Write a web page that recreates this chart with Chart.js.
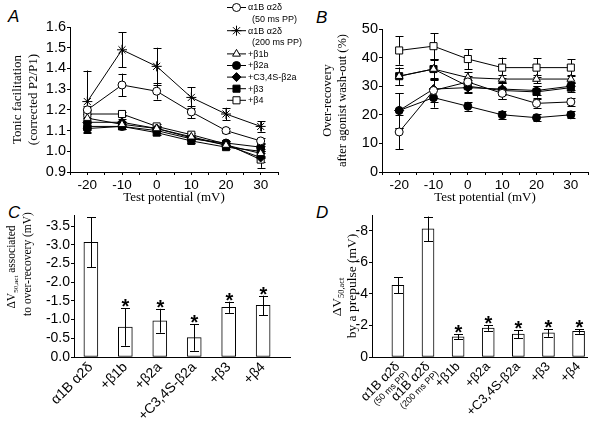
<!DOCTYPE html>
<html>
<head>
<meta charset="utf-8">
<script src="https://cdn.jsdelivr.net/npm/chart.js@4.4.1/dist/chart.umd.min.js"></script>
<style>
  body { margin: 0; width: 595px; height: 429px; background: #fff; position: relative; overflow: hidden; }
  canvas { position: absolute; }
  .panel { position: absolute; font: italic 17px "Liberation Sans", Arial, sans-serif; color: #000; }
</style>
</head>
<body>
<div class="panel" style="left:8px;top:7px">A</div>
<div class="panel" style="left:316px;top:8px">B</div>
<div class="panel" style="left:8px;top:203px">C</div>
<div class="panel" style="left:316px;top:203px">D</div>
<canvas id="chartA" width="330" height="205" style="left:0;top:0"></canvas>
<canvas id="chartB" width="300" height="205" style="left:295px;top:0"></canvas>
<canvas id="chartC" width="300" height="229" style="left:0;top:200px"></canvas>
<canvas id="chartD" width="300" height="229" style="left:295px;top:200px"></canvas>
<script>
// ---- data ----
const potentials = [-20, -10, 0, 10, 20, 30];

// A: tonic facilitation (corrected P2/P1)
const tonic50 = [1.20, 1.32, 1.29, 1.19, 1.10, 1.05];
const tonic50Err = [0.02, 0.055, 0.04, 0.03, 0.012, 0.015];
const tonic200 = [1.24, 1.49, 1.41, 1.26, 1.18, 1.12];
const tonic200Err = [0.15, 0.085, 0.09, 0.05, 0.03, 0.025];
const tonicB1b = [1.16, 1.13, 1.11, 1.07, 1.03, 0.99];
const tonicB1bErr = [0.02, 0.01, 0.01, 0.01, 0.01, 0.02];
const tonicB2a = [1.11, 1.12, 1.10, 1.06, 1.04, 1.02];
const tonicB2aErr = [0.015, 0.01, 0.01, 0.01, 0.01, 0.02];
const tonicC34 = [1.14, 1.14, 1.11, 1.065, 1.03, 0.97];
const tonicC34Err = [0.02, 0.015, 0.01, 0.01, 0.01, 0.02];
const tonicB3 = [1.12, 1.12, 1.09, 1.05, 1.02, 1.00];
const tonicB3Err = [0.015, 0.01, 0.01, 0.01, 0.01, 0.025];
const tonicB4 = [1.18, 1.18, 1.12, 1.08, 1.035, 0.96];
const tonicB4Err = [0.02, 0.01, 0.01, 0.01, 0.015, 0.04];

// B: over-recovery after agonist wash-out (%)
const over50 = [14, 28.5, 31.5, 27.5, 24, 24.5];
const over50Err = [6, 4, 2, 2, 1.5, 1.5];
const overB1b = [33.5, 36, 33, 32.5, 32.5, 32.5];
const overB1bErr = [3, 3, 2, 1.5, 1.5, 1.5];
const overB2a = [21.5, 26, 23, 20, 19, 20];
const overB2aErr = [6, 3.5, 1.5, 1.5, 1.2, 1.2];
const overC34 = [21.5, 29, 29.5, 29, 28.5, 30];
const overC34Err = [6, 3, 2, 2, 1.5, 1.5];
const overB3 = [33.5, 36, 30, 28.5, 28, 29.5];
const overB3Err = [3, 3.5, 2, 3, 2, 1.5];
const overB4 = [42.5, 44, 39.5, 36.5, 36.5, 36.5];
const overB4Err = [5, 4.5, 3.5, 3.5, 3.2, 3];

// legend
const legendNames = [['α1B α2δ', '(50 ms PP)'], ['α1B α2δ', '(200 ms PP)'], ['+β1b'], ['+β2a'], ['+C3,4S-β2a'], ['+β3'], ['+β4']];

// C: ΔV50,act associated to over-recovery (mV)
const groupsC = ['α1B α2δ', '+β1b', '+β2a', '+C3,4S-β2a', '+β3', '+β4'];
const shiftC = [-3.07, -0.80, -0.97, -0.52, -1.33, -1.38];
const shiftCErr = [0.67, 0.50, 0.32, 0.35, 0.15, 0.26];
const starC = [false, true, true, true, true, true];

// D: ΔV50,act by a prepulse (mV)
const groupsD = ['α1B α2δ', 'α1B α2δ', '+β1b', '+β2a', '+C3,4S-β2a', '+β3', '+β4'];
const notesD = ['(50 ms PP)', '(200 ms PP)', '', '', '', '', ''];
const shiftD = [-4.55, -8.12, -1.28, -1.83, -1.45, -1.53, -1.62];
const shiftDErr = [0.52, 0.78, 0.17, 0.17, 0.25, 0.25, 0.15];
const starD = [false, false, true, true, true, true, true];

// ---- styles ----
const SANS = '"Liberation Sans", Arial, sans-serif';
const SERIF = '"Liberation Serif", "Times New Roman", serif';
Chart.defaults.font.family = SANS;
Chart.defaults.color = '#000';

const marks = [
  {pointStyle: 'circle', fill: '#fff', r: 4},
  {pointStyle: 'star', fill: '#000', r: 5},
  {pointStyle: 'triangle', fill: '#fff', r: 4.5},
  {pointStyle: 'circle', fill: '#000', r: 4},
  {pointStyle: 'rectRot', fill: '#000', r: 4.5},
  {pointStyle: 'rect', fill: '#000', r: 5},
  {pointStyle: 'rect', fill: '#fff', r: 5}
];

function lineSet(vals, errs, m) {
  return {
    data: potentials.map((x, i) => ({x: x, y: vals[i]})),
    errors: errs,
    borderColor: '#000', borderWidth: 1,
    pointStyle: m.pointStyle, pointRadius: m.r,
    pointBackgroundColor: m.fill, pointBorderColor: '#000', pointBorderWidth: 1
  };
}

// error bars + significance stars
function drawErrors(chart, opts) {
  const ctx = chart.ctx, y = chart.scales.y;
  ctx.save();
  ctx.strokeStyle = '#000';
  ctx.lineWidth = 1;
  chart.data.datasets.forEach((ds, di) => {
    if (!ds.errors) return;
    chart.getDatasetMeta(di).data.forEach((el, i) => {
      const v = ds.data[i].y, e = ds.errors[i];
      const p1 = y.getPixelForValue(v + e), p2 = y.getPixelForValue(v - e);
      const x = Math.round(el.x) + 0.5;
      ctx.beginPath();
      ctx.moveTo(x, p1); ctx.lineTo(x, p2);
      ctx.moveTo(x - opts.cap, Math.round(p1) + 0.5); ctx.lineTo(x + opts.cap, Math.round(p1) + 0.5);
      ctx.moveTo(x - opts.cap, Math.round(p2) + 0.5); ctx.lineTo(x + opts.cap, Math.round(p2) + 0.5);
      ctx.stroke();
      if (ds.stars && ds.stars[i]) {
        ctx.fillStyle = '#000';
        ctx.font = 'bold 20px ' + SANS;
        ctx.textAlign = 'center';
        ctx.textBaseline = 'alphabetic';
        ctx.fillText('*', x, Math.min(p1, p2) + 5);
      }
    });
  });
  ctx.restore();
}
const errorBars = {
  id: 'errorBars',
  beforeDatasetsDraw(chart, args, opts) { if (!opts.after) drawErrors(chart, opts); },
  afterDatasetsDraw(chart, args, opts) { if (opts.after) drawErrors(chart, opts); }
};

// legend of panel A
const legendA = {
  id: 'legendA',
  afterDraw(chart) {
    const ctx = chart.ctx;
    let y = 7;
    ctx.save();
    legendNames.forEach((lines, k) => {
      const m = marks[k];
      ctx.strokeStyle = '#000';
      ctx.lineWidth = 1;
      ctx.beginPath();
      ctx.moveTo(227, y + 0.5); ctx.lineTo(246, y + 0.5);
      ctx.stroke();
      ctx.fillStyle = m.fill;
      Chart.helpers.drawPoint(ctx, {pointStyle: m.pointStyle, radius: m.r, borderWidth: 1, rotation: 0}, 236.5, y + 0.5);
      ctx.fillStyle = '#000';
      ctx.font = '9px ' + SANS;
      ctx.textBaseline = 'middle';
      ctx.textAlign = 'left';
      lines.forEach((t, j) => {
        ctx.fillText(t, j ? 252 : 248, y + 1);
        y += 11.6;
      });
    });
    ctx.restore();
  }
};

// vertical titles with subscripts (panels C, D)
const sideTitle = {
  id: 'sideTitle',
  afterDraw(chart, args, opts) {
    const ctx = chart.ctx;
    opts.lines.forEach(line => {
      ctx.save();
      ctx.translate(line.x, line.y);
      ctx.rotate(-Math.PI / 2);
      ctx.fillStyle = '#000';
      ctx.textBaseline = 'middle';
      ctx.textAlign = 'left';
      const fontOf = p => (p.sub ? line.size * 0.62 : line.size) + 'px ' + SERIF;
      let w = 0;
      line.parts.forEach(p => { ctx.font = fontOf(p); w += ctx.measureText(p.text).width; });
      let cx = -w / 2;
      line.parts.forEach(p => {
        ctx.font = fontOf(p);
        ctx.fillText(p.text, cx, p.sub ? line.size * 0.32 : 0);
        cx += ctx.measureText(p.text).width;
      });
      ctx.restore();
    });
  }
};

function lineScales(ymin, ymax, ystep, ydec, ywidth, ytitle, ytitlePad, ysize, ytsize) {
  return {
    x: {
      type: 'linear', min: -25, max: 35,
      afterFit(s) { s.height = 33; },
      ticks: {stepSize: 5, autoSkip: false, maxRotation: 0, padding: 2, font: {size: 13.5},
              callback: v => (v % 10 === 0 ? String(v) : '')},
      grid: {drawOnChartArea: false, tickLength: 3, color: '#000'},
      border: {color: '#000'},
      title: {display: true, text: 'Test potential (mV)', font: {family: SERIF, size: 13}, padding: 0}
    },
    y: {
      min: ymin, max: ymax,
      afterFit(s) { s.width = ywidth; },
      ticks: {stepSize: ystep, padding: 1, font: {size: ysize}, callback: v => v.toFixed(ydec)},
      grid: {drawOnChartArea: false, tickLength: 3, color: '#000'},
      border: {color: '#000'},
      title: {display: true, text: ytitle, font: {family: SERIF, size: ytsize}, padding: {top: ytitlePad, bottom: 0}}
    }
  };
}

function barScales(ymin, ystep, ydec, xmin, xmax, ywidth, labelFn, fontFn, tickFn) {
  return {
    x: {
      type: 'linear', min: xmin, max: xmax, offset: false,
      afterFit(s) { s.height = 72; },
      afterBuildTicks(s) { s.ticks = tickFn(); },
      ticks: {autoSkip: false, minRotation: 45, maxRotation: 45, padding: 2,
              font: fontFn, callback: labelFn},
      grid: {display: true, drawOnChartArea: false, tickLength: 0, offset: false},
      border: {color: '#000'}
    },
    y: {
      reverse: true, min: ymin, max: 0,
      afterFit(s) { s.width = ywidth; },
      ticks: {stepSize: ystep, includeBounds: false, padding: 1, font: {size: 14}, callback: v => v.toFixed(ydec)},
      grid: {drawOnChartArea: false, tickLength: 3, color: '#000'},
      border: {color: '#000'}
    }
  };
}

const common = {responsive: false, animation: false, devicePixelRatio: 1, events: []};

// ---- A ----
new Chart(document.getElementById('chartA'), {
  type: 'line',
  data: {datasets: [
    lineSet(tonic50, tonic50Err, marks[0]),
    lineSet(tonic200, tonic200Err, marks[1]),
    lineSet(tonicB1b, tonicB1bErr, marks[2]),
    lineSet(tonicB2a, tonicB2aErr, marks[3]),
    lineSet(tonicC34, tonicC34Err, marks[4]),
    lineSet(tonicB3, tonicB3Err, marks[5]),
    lineSet(tonicB4, tonicB4Err, marks[6])
  ]},
  options: Object.assign({}, common, {
    layout: {padding: {left: 0, top: 27, right: 52, bottom: 0}},
    plugins: {legend: {display: false}, tooltip: {enabled: false}, errorBars: {cap: 4}},
    scales: lineScales(0.9, 1.6, 0.1, 1, 70, ['Tonic facilitation', '(corrected P2/P1)'], 10, 14.5, 13)
  }),
  plugins: [errorBars, legendA]
});

// ---- B ----
new Chart(document.getElementById('chartB'), {
  type: 'line',
  data: {datasets: [
    lineSet(over50, over50Err, marks[0]),
    lineSet(overB1b, overB1bErr, marks[2]),
    lineSet(overB2a, overB2aErr, marks[3]),
    lineSet(overC34, overC34Err, marks[4]),
    lineSet(overB3, overB3Err, marks[5]),
    lineSet(overB4, overB4Err, marks[6])
  ]},
  options: Object.assign({}, common, {
    layout: {padding: {left: 0, top: 29, right: 7, bottom: 0}},
    plugins: {legend: {display: false}, tooltip: {enabled: false}, errorBars: {cap: 4}},
    scales: lineScales(0, 50, 10, 0, 87, ['Over-recovery', 'after agonist wash-out (%)'], 25, 14.5, 12.5)
  }),
  plugins: [errorBars]
});

// ---- C ----
new Chart(document.getElementById('chartC'), {
  type: 'bar',
  data: {datasets: [{
    data: shiftC.map((v, i) => ({x: i, y: v})),
    errors: shiftCErr, stars: starC,
    backgroundColor: '#fff', borderColor: '#000', borderWidth: 1, barThickness: 14, borderSkipped: false
  }]},
  options: Object.assign({}, common, {
    layout: {padding: {left: 0, top: 15, right: 10, bottom: 0}},
    plugins: {
      legend: {display: false}, tooltip: {enabled: false}, errorBars: {cap: 4.5, after: true},
      sideTitle: {lines: [
        {x: 12, y: 67, size: 11.5, parts: [{text: 'ΔV'}, {text: '50,act', sub: true}, {text: ' associated'}]},
        {x: 28, y: 64, size: 11.5, parts: [{text: 'to over-recovery (mV)'}]}
      ]}
    },
    scales: barScales(-3.8, 0.5, 1, -0.49, 5.78, 74,
      v => groupsC[Math.round(v)], {size: 14},
      () => groupsC.map((g, i) => ({value: i})))
  }),
  plugins: [errorBars, sideTitle]
});

// ---- D ----
// the small "(xx ms PP)" notes are extra ticks beside the main label
const NOTE_SHIFT = 0.62;
new Chart(document.getElementById('chartD'), {
  type: 'bar',
  data: {datasets: [{
    data: shiftD.map((v, i) => ({x: i, y: v})),
    errors: shiftDErr, stars: starD,
    backgroundColor: '#fff', borderColor: '#000', borderWidth: 1, barThickness: 12, borderSkipped: false
  }]},
  options: Object.assign({}, common, {
    layout: {padding: {left: 0, top: 15, right: 8, bottom: 0}},
    plugins: {
      legend: {display: false}, tooltip: {enabled: false}, errorBars: {cap: 4.5, after: true},
      sideTitle: {lines: [
        {x: 42, y: 97, size: 13.5, parts: [{text: 'ΔV'}, {text: '50,act', sub: true}]},
        {x: 57, y: 86, size: 13.5, parts: [{text: 'by a prepulse (mV)'}]}
      ]}
    },
    scales: barScales(-9, 1, 0, -0.86, 6.28, 77,
      v => (Number.isInteger(v) ? groupsD[v] : notesD[Math.floor(v)] + '\u2002\u2002\u2002'),
      c => ({size: (c.tick && !Number.isInteger(c.tick.value)) ? 9 : 13}),
      () => {
        const t = [];
        groupsD.forEach((g, i) => {
          t.push({value: i});
          if (notesD[i]) t.push({value: i + NOTE_SHIFT});
        });
        return t;
      })
  }),
  plugins: [errorBars, sideTitle]
});
</script>
</body>
</html>
